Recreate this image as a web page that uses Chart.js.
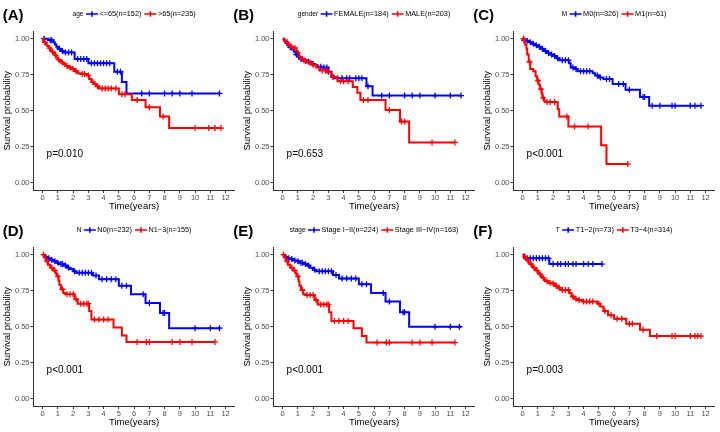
<!DOCTYPE html>
<html>
<head>
<meta charset="utf-8">
<script src="https://cdn.jsdelivr.net/npm/chart.js@4.4.1/dist/chart.umd.min.js"></script>
<style>
  body { margin: 0; background: #fff; }
  #grid { position: relative; width: 720px; height: 432px; }
  .panel { position: absolute; width: 240px; height: 216px; }
  .tag { position: absolute; font: bold 15px "Liberation Sans", Arial, sans-serif; line-height: 15px; color: #000; }
</style>
</head>
<body>
<div id="grid"></div>
<script>
// axis ticks
const xTicks = [0, 1, 2, 3, 4, 5, 6, 7, 8, 9, 10, 11, 12];
const yTicks = [0, 0.25, 0.5, 0.75, 1];

// KM curves: [time, survival] at each drop, last point = end of follow-up
// (A) age
const ageLowSteps = [[0,1],[0.35,0.99],[0.7,0.975],[0.8,0.96],[0.9,0.945],[1.0,0.93],[1.2,0.915],[1.4,0.905],[2.1,0.86],[3.0,0.83],[4.7,0.77],[5.2,0.70],[5.5,0.62],[11.6,0.62]];
const ageLowCens = [0.1,0.5,0.6,1.1,1.3,1.5,1.7,1.9,2.3,2.5,2.7,2.9,3.2,3.4,3.6,3.8,4.0,4.2,4.4,4.9,5.1,6.5,7.0,8.0,8.5,9.0,9.8,11.6];
const ageHighSteps = [[0,1],[0.03,0.985],[0.1,0.975],[0.2,0.96],[0.3,0.95],[0.4,0.935],[0.5,0.92],[0.6,0.91],[0.7,0.9],[0.8,0.885],[0.9,0.87],[1.0,0.855],[1.1,0.845],[1.2,0.835],[1.35,0.825],[1.5,0.81],[1.7,0.8],[1.9,0.79],[2.1,0.775],[2.3,0.76],[2.5,0.755],[2.9,0.745],[3.05,0.72],[3.2,0.7],[3.35,0.685],[3.5,0.67],[3.7,0.655],[5.0,0.615],[5.85,0.575],[6.75,0.525],[7.7,0.46],[8.3,0.38],[11.7,0.38]];
const ageHighCens = [0.15,0.45,0.65,0.85,1.05,1.3,1.6,1.8,2.0,2.2,2.6,2.75,3.0,3.3,3.6,3.9,4.1,4.3,4.5,4.8,5.2,5.4,6.2,7.0,7.9,10.0,10.9,11.3,11.7];

// (B) gender
const femaleSteps = [[0,1],[0.1,0.985],[0.2,0.97],[0.3,0.955],[0.45,0.94],[0.6,0.925],[0.75,0.91],[0.85,0.89],[1.0,0.875],[1.1,0.86],[1.3,0.85],[1.6,0.84],[1.9,0.825],[2.1,0.815],[2.3,0.805],[2.6,0.8],[3.0,0.77],[3.2,0.745],[3.35,0.725],[5.5,0.67],[5.9,0.605],[11.7,0.605]];
const femaleCens = [0.5,0.9,1.2,1.4,1.7,2.0,2.5,2.7,2.9,3.0,3.6,3.9,4.2,4.4,4.8,5.0,5.2,5.6,6.5,7.0,8.0,8.5,9.0,10.0,11.0,11.7];
const maleSteps = [[0,1],[0.1,0.99],[0.2,0.975],[0.35,0.96],[0.5,0.945],[0.7,0.935],[0.9,0.915],[1.0,0.9],[1.1,0.875],[1.2,0.86],[1.4,0.845],[1.6,0.835],[1.9,0.82],[2.2,0.8],[2.4,0.78],[3.0,0.765],[3.2,0.735],[3.6,0.705],[4.6,0.665],[4.9,0.625],[5.1,0.575],[6.75,0.505],[7.7,0.425],[8.3,0.28],[11.3,0.28]];
const maleCens = [0.3,0.6,0.8,1.3,1.5,1.8,2.0,2.6,2.8,2.9,3.3,3.8,4.0,4.3,5.3,5.6,7.0,7.8,8.0,9.8,11.3];

// (C) M
const m0Steps = [[0,1],[0.05,0.99],[0.2,0.985],[0.4,0.975],[0.6,0.965],[0.8,0.955],[1.0,0.945],[1.2,0.93],[1.4,0.915],[1.6,0.9],[1.8,0.89],[2.0,0.88],[2.2,0.865],[2.4,0.85],[3.05,0.83],[3.15,0.8],[3.4,0.79],[3.6,0.775],[4.6,0.76],[4.75,0.745],[5.0,0.73],[5.3,0.72],[5.9,0.685],[6.75,0.645],[7.7,0.595],[8.3,0.535],[11.7,0.535]];
const m0Cens = [0.1,0.3,0.5,0.7,0.9,1.1,1.3,1.5,1.7,1.9,2.1,2.3,2.6,2.8,3.0,3.3,3.5,3.8,4.0,4.2,4.4,4.9,5.1,5.5,5.7,6.3,6.6,7.0,7.9,8.0,8.5,9.0,9.8,10.0,11.0,11.3,11.7];
const m1Steps = [[0,1],[0.15,0.96],[0.25,0.93],[0.3,0.89],[0.4,0.84],[0.5,0.79],[0.7,0.775],[0.85,0.74],[0.95,0.71],[1.05,0.68],[1.15,0.65],[1.25,0.62],[1.3,0.59],[1.4,0.57],[1.5,0.56],[2.3,0.51],[2.4,0.46],[3.0,0.39],[5.15,0.26],[5.5,0.13],[6.9,0.13]];
const m1Cens = [0.05,0.45,1.0,1.2,1.35,1.6,1.8,2.1,2.9,3.4,4.3,6.9];

// (D) N
const n0Steps = [[0,1],[0.1,0.985],[0.3,0.975],[0.5,0.965],[0.7,0.955],[0.9,0.945],[1.1,0.935],[1.4,0.925],[1.6,0.91],[1.8,0.9],[2.0,0.885],[2.2,0.875],[3.3,0.855],[3.7,0.83],[5.0,0.785],[5.8,0.725],[6.75,0.665],[7.7,0.595],[8.3,0.49],[11.7,0.49]];
const n0Cens = [0.2,0.4,0.6,0.8,1.0,1.2,1.3,1.5,1.7,2.1,2.4,2.6,2.8,3.0,3.2,3.5,3.9,4.2,4.5,4.8,5.2,5.5,6.6,7.0,7.9,8.0,10.0,11.0,11.6];
const n13Steps = [[0,1],[0.1,0.98],[0.2,0.955],[0.35,0.93],[0.5,0.91],[0.7,0.89],[0.85,0.87],[0.95,0.85],[1.05,0.82],[1.1,0.79],[1.2,0.76],[1.35,0.735],[1.5,0.725],[2.1,0.69],[2.3,0.66],[3.05,0.61],[3.2,0.55],[4.65,0.495],[5.2,0.44],[5.5,0.395],[11.3,0.395]];
const n13Cens = [0.05,0.3,0.6,0.8,1.0,1.3,1.6,1.8,2.0,2.2,2.5,2.7,2.9,3.0,3.4,3.7,4.0,4.3,6.2,6.8,7.0,8.5,9.0,9.8,11.3];

// (E) stage
const earlySteps = [[0,1],[0.1,0.985],[0.3,0.975],[0.5,0.97],[0.7,0.96],[0.9,0.955],[1.1,0.945],[1.4,0.935],[1.6,0.925],[1.8,0.91],[2.0,0.895],[2.2,0.885],[3.3,0.86],[3.7,0.835],[5.0,0.795],[5.8,0.735],[6.75,0.675],[7.7,0.6],[8.3,0.5],[11.7,0.5]];
const earlyCens = [0.2,0.4,0.6,0.8,1.0,1.2,1.3,1.5,1.7,2.1,2.4,2.6,2.8,3.0,3.2,3.5,3.9,4.2,4.5,4.8,5.2,5.5,6.6,7.0,7.9,8.0,10.0,11.0,11.6];
const lateSteps = [[0,1],[0.1,0.98],[0.2,0.955],[0.35,0.93],[0.5,0.91],[0.7,0.89],[0.85,0.87],[0.95,0.85],[1.05,0.815],[1.1,0.785],[1.2,0.755],[1.35,0.725],[1.5,0.72],[2.1,0.685],[2.3,0.655],[3.05,0.6],[3.2,0.54],[4.65,0.49],[5.2,0.435],[5.5,0.39],[11.3,0.39]];
const lateCens = [0.05,0.3,0.6,0.8,1.0,1.3,1.6,1.8,2.0,2.2,2.5,2.7,2.9,3.0,3.4,3.7,4.0,4.3,6.2,6.8,7.0,8.5,9.0,9.8,11.3];

// (F) T
const t12Steps = [[0,1],[0.1,0.975],[1.75,0.935],[5.2,0.935]];
const t12Cens = [0.3,0.5,0.7,0.9,1.1,1.3,1.5,1.7,2.0,2.3,2.5,2.8,3.0,3.3,3.5,4.0,4.3,4.6,5.2];
const t34Steps = [[0,1],[0.1,0.985],[0.2,0.97],[0.3,0.96],[0.4,0.945],[0.5,0.935],[0.6,0.92],[0.7,0.91],[0.8,0.9],[0.9,0.89],[1.0,0.875],[1.1,0.865],[1.2,0.85],[1.3,0.84],[1.4,0.825],[1.5,0.815],[1.7,0.805],[1.9,0.8],[2.1,0.785],[2.3,0.77],[2.5,0.755],[3.05,0.735],[3.2,0.71],[3.35,0.695],[3.6,0.685],[3.9,0.675],[4.9,0.66],[5.1,0.64],[5.3,0.61],[5.6,0.58],[6.0,0.555],[6.8,0.52],[7.7,0.48],[8.35,0.435],[11.7,0.435]];
const t34Cens = [0.15,0.35,0.55,0.75,0.95,1.15,1.35,1.6,1.8,2.0,2.2,2.4,2.6,2.8,3.0,3.3,3.5,3.7,4.0,4.2,4.4,4.6,5.0,5.4,5.8,6.2,6.5,7.0,7.2,7.9,8.8,9.8,10.0,11.0,11.3,11.5,11.7];

const tags = ['(A)', '(B)', '(C)', '(D)', '(E)', '(F)'];
const legendTitles = ['age', 'gender', 'M', 'N', 'stage', 'T'];
const groupNames = [
  ['<=65(n=152)', '>65(n=235)'],
  ['FEMALE(n=184)', 'MALE(n=203)'],
  ['M0(n=326)', 'M1(n=61)'],
  ['N0(n=232)', 'N1\u22123(n=155)'],
  ['Stage I\u2212II(n=224)', 'Stage III\u2212IV(n=163)'],
  ['T1\u22122(n=73)', 'T3\u22124(n=314)']
];
const pValues = ['p=0.010', 'p=0.653', 'p<0.001', 'p<0.001', 'p<0.001', 'p=0.003'];
const curveSteps = [[ageLowSteps, ageHighSteps], [femaleSteps, maleSteps], [m0Steps, m1Steps], [n0Steps, n13Steps], [earlySteps, lateSteps], [t12Steps, t34Steps]];
const curveCens = [[ageLowCens, ageHighCens], [femaleCens, maleCens], [m0Cens, m1Cens], [n0Cens, n13Cens], [earlyCens, lateCens], [t12Cens, t34Cens]];
const colors = ['#0000FF', '#FF0000'];

const FONT = '"Liberation Sans", Arial, sans-serif';

// survival value of a step curve at time t
function survAt(steps, t) {
  let s = steps[0][1];
  for (const [ti, si] of steps) { if (ti <= t) s = si; }
  return s;
}

// legend across the top and the p-value inside the plot
const decor = {
  id: 'decor',
  afterDraw(chart, args, opts) {
    const { ctx, chartArea, scales } = chart;
    ctx.save();
    ctx.textBaseline = 'middle';
    ctx.textAlign = 'left';
    ctx.fillStyle = '#000';
    ctx.font = '10px ' + FONT;
    ctx.fillText(opts.pval, scales.x.getPixelForValue(0.26), scales.y.getPixelForValue(0.2));

    const titleFont = '6.5px ' + FONT, labFont = '7.3px ' + FONT;
    ctx.font = titleFont;
    const tw = ctx.measureText(opts.title).width;
    ctx.font = labFont;
    const lw = opts.names.map(n => ctx.measureText(n).width);
    const keyW = 12, g1 = 2.5, g2 = 1.5, g3 = 3;
    const total = tw + g1 + keyW + g2 + lw[0] + g3 + keyW + g2 + lw[1];
    let x = (chartArea.left + chartArea.right) / 2 - total / 2;
    const y = 14;
    ctx.font = titleFont;
    ctx.fillText(opts.title, x, y);
    x += tw + g1;
    for (let i = 0; i < 2; i++) {
      ctx.strokeStyle = colors[i];
      ctx.lineWidth = 1.6;
      ctx.beginPath();
      ctx.moveTo(x, y); ctx.lineTo(x + keyW, y);
      ctx.moveTo(x + keyW / 2, y - 2.8); ctx.lineTo(x + keyW / 2, y + 2.8);
      ctx.stroke();
      x += keyW + g2;
      ctx.font = labFont;
      ctx.fillText(opts.names[i], x, y);
      x += lw[i] + g3;
    }
    ctx.restore();
  }
};

const grid = document.getElementById('grid');

tags.forEach((tag, p) => {
  const col = p % 3, row = Math.floor(p / 3);
  const div = document.createElement('div');
  div.className = 'panel';
  div.style.left = (col * 240) + 'px';
  div.style.top = (row * 216) + 'px';
  const canvas = document.createElement('canvas');
  canvas.width = 240; canvas.height = 216;
  canvas.style.width = '240px'; canvas.style.height = '216px';
  div.appendChild(canvas);
  grid.appendChild(div);

  // second group (red) is drawn over the first, censor marks over their line
  const datasets = [];
  for (let g = 0; g < 2; g++) {
    const steps = curveSteps[p][g];
    datasets.push({
      data: steps.map(([t, s]) => ({ x: t, y: s })),
      borderColor: colors[g],
      borderWidth: 2,
      showLine: true,
      stepped: true,
      pointRadius: 0,
      fill: false,
      order: 4 - g * 2
    });
    datasets.push({
      data: curveCens[p][g].map(t => ({ x: t, y: survAt(steps, t) })),
      showLine: false,
      pointStyle: 'cross',
      pointRadius: 3,
      borderColor: colors[g],
      borderWidth: 1.3,
      order: 3 - g * 2
    });
  }

  new Chart(canvas, {
    type: 'scatter',
    data: { datasets },
    options: {
      responsive: false,
      animation: false,
      devicePixelRatio: 1,
      layout: { padding: { top: 31.5, right: 3, left: 0, bottom: 0 } },
      plugins: {
        legend: { display: false },
        tooltip: { enabled: false },
        decor: { title: legendTitles[p], names: groupNames[p], pval: pValues[p] }
      },
      scales: {
        x: {
          type: 'linear', min: -0.6, max: 12.6,
          afterBuildTicks: s => { s.ticks = xTicks.map(v => ({ value: v })); },
          afterFit: s => { s.height = 26; },
          grid: { drawOnChartArea: false, drawTicks: true, tickLength: 3, tickColor: '#333', lineWidth: 1 },
          border: { display: true, color: '#333', width: 1 },
          ticks: { color: '#4d4d4d', font: { family: FONT, size: 7.5 }, padding: 0, maxRotation: 0, autoSkip: false, callback: v => String(v) },
          title: { display: true, text: 'Time(years)', color: '#000', font: { family: FONT, size: 9.5 }, padding: { top: 0, bottom: 3.5 } }
        },
        y: {
          type: 'linear', min: -0.05, max: 1.05,
          afterBuildTicks: s => { s.ticks = yTicks.map(v => ({ value: v })); },
          afterFit: s => { s.width = 33.5; },
          grid: { drawOnChartArea: false, drawTicks: true, tickLength: 3, tickColor: '#333', lineWidth: 1 },
          border: { display: true, color: '#333', width: 1 },
          ticks: { color: '#4d4d4d', font: { family: FONT, size: 7.5 }, padding: 1, callback: v => Number(v).toFixed(2) },
          title: { display: true, text: 'Survival probability', color: '#000', font: { family: FONT, size: 9.5 }, padding: { top: 2, bottom: 0 } }
        }
      }
    },
    plugins: [decor]
  });
});

// panel letters sit on the page grid, partly over the neighbouring panel
const tagX = [2.7, 233.3, 473.3];
tags.forEach((tag, p) => {
  const el = document.createElement('div');
  el.className = 'tag';
  el.textContent = tag;
  el.style.left = tagX[p % 3] + 'px';
  el.style.top = (7 + Math.floor(p / 3) * 216) + 'px';
  grid.appendChild(el);
});
</script>
</body>
</html>
